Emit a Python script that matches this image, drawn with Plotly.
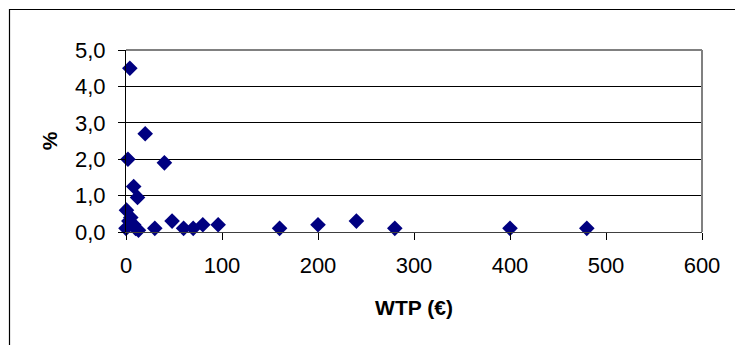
import plotly.graph_objects as go

# Willingness to pay (EUR) vs. share of respondents (%)
wtp = [0, 0.5, 2, 4, 8, 12, 20, 40, 3, 5, 8, 10, 13, 30, 48, 60, 70, 80, 96,
       160, 200, 240, 280, 400, 480]
pct = [0.1, 0.6, 2.0, 4.5, 1.25, 0.95, 2.7, 1.9, 0.3, 0.4, 0.2, 0.1, 0.05, 0.1,
       0.3, 0.1, 0.1, 0.2, 0.2, 0.1, 0.2, 0.3, 0.1, 0.1, 0.1]

x_ticks = [0, 100, 200, 300, 400, 500, 600]
y_ticks = [0, 1, 2, 3, 4, 5]

FONT = "Liberation Sans, Arial, sans-serif"
W, H = 735, 345
L, R, T, B = 126, 33, 50, 113
pw, ph = W - L - R, H - T - B


def px_x(p):
    # pixel column -> paper x
    return (p - L) / pw


def px_y(p):
    # pixel row -> paper y
    return (H - B - p) / ph


fig = go.Figure(
    go.Scatter(
        x=wtp, y=pct, mode="markers",
        marker=dict(symbol="diamond", size=12, color="#000080",
                    line=dict(width=0)),
        cliponaxis=False, showlegend=False,
    )
)

fig.update_layout(
    width=W, height=H,
    margin=dict(l=L, r=R, t=T, b=B, pad=0),
    paper_bgcolor="white", plot_bgcolor="white",
    separators=",.",
    font=dict(family=FONT, size=22, color="black"),
    xaxis=dict(
        range=[0, 600], tickvals=x_ticks, showgrid=False, zeroline=False,
        showline=True, linecolor="#404040", linewidth=1,
        ticks="outside", ticklen=7, tickcolor="black", tickwidth=1,
        ticklabelstandoff=7,
        title=dict(text="<b>WTP (€)</b>", font=dict(size=21), standoff=22),
        automargin=False,
    ),
    yaxis=dict(
        range=[0, 5], tickvals=y_ticks, tickformat=".1f",
        showgrid=True, gridcolor="black", gridwidth=1, zeroline=False,
        showline=True, linecolor="black", linewidth=1,
        ticks="outside", ticklen=7, tickcolor="black", tickwidth=1,
        ticklabelstandoff=8,
        title=dict(text="<b>%</b>", font=dict(size=21), standoff=11),
        automargin=False,
    ),
    shapes=[
        # grey plot-area border (top and right)
        dict(type="line", xref="paper", yref="paper", x0=0, x1=1, y0=1, y1=1,
             line=dict(color="#808080", width=2), layer="above"),
        dict(type="line", xref="paper", yref="paper", x0=1, x1=1, y0=0, y1=1,
             line=dict(color="#808080", width=2), layer="above"),
        # outer chart frame (top and left edges)
        dict(type="line", xref="paper", yref="paper",
             x0=px_x(9), x1=px_x(W + 5), y0=px_y(9.5), y1=px_y(9.5),
             line=dict(color="black", width=1.2), layer="above"),
        dict(type="line", xref="paper", yref="paper",
             x0=px_x(9.5), x1=px_x(9.5), y0=px_y(9), y1=px_y(H + 5),
             line=dict(color="black", width=1.2), layer="above"),
    ],
)

fig.write_html("out.html")
